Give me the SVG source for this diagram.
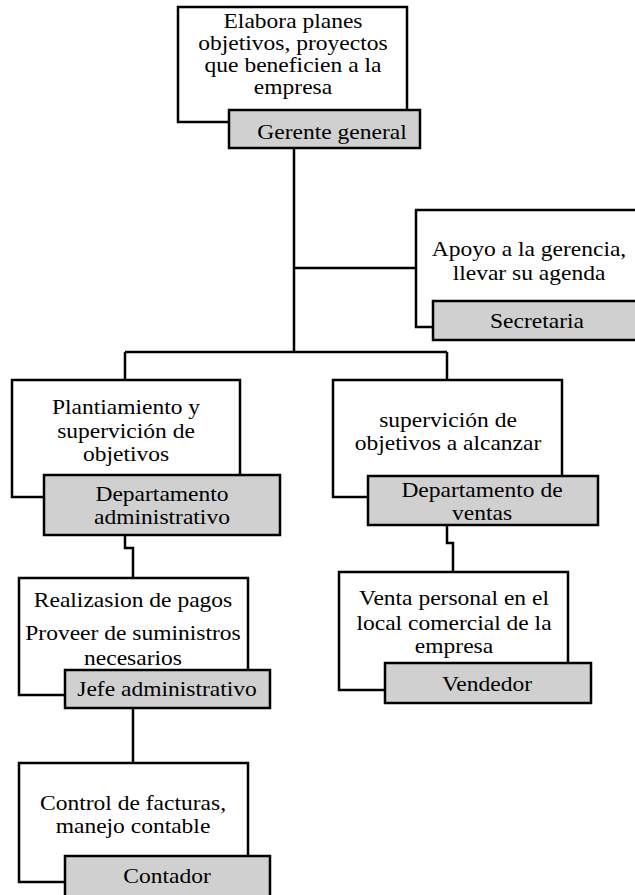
<svg xmlns="http://www.w3.org/2000/svg" width="635" height="895" viewBox="0 0 635 895">
<style>
.w{fill:#fff;stroke:#000;stroke-width:2.5}
.g{fill:#d0d0d0;stroke:#000;stroke-width:2.5}
.c{fill:none;stroke:#000;stroke-width:2.5}
text{font-family:"Liberation Serif","Times New Roman",serif;font-size:21px;fill:#000;text-anchor:middle}
</style>
<rect width="635" height="895" fill="#fff"/>
<g id="connectors">
<path class="c" d="M294,148 V352 M294,268 H416 M125,352 H447 M125,352 V380 M447,352 V380"/>
<path class="c" d="M125,535 V548 H133 V578"/>
<path class="c" d="M447,525 V543 H453 V572"/>
<path class="c" d="M133,708 V763"/>
</g>
<g id="gerente">
<rect class="w" x="178" y="7" width="229" height="115"/>
<text transform="translate(293 0) scale(1.12 1)"><tspan x="0" y="28">Elabora planes</tspan><tspan x="0" y="50">objetivos, proyectos</tspan><tspan x="0" y="72">que beneficien a la</tspan><tspan x="0" y="94">empresa</tspan></text>
<rect class="g" x="229" y="110" width="191" height="38"/>
<text transform="translate(332 0) scale(1.12 1)" x="0" y="139">Gerente general</text>
</g>
<g id="secretaria">
<rect class="w" x="416" y="210" width="222" height="117"/>
<text transform="translate(529 0) scale(1.12 1)"><tspan x="0" y="256">Apoyo a la gerencia,</tspan><tspan x="0" y="280">llevar su agenda</tspan></text>
<rect class="g" x="433" y="301" width="205" height="39"/>
<text transform="translate(537 0) scale(1.12 1)" x="0" y="328">Secretaria</text>
</g>
<g id="dep-admin">
<rect class="w" x="12" y="380" width="228" height="117"/>
<text transform="translate(126 0) scale(1.12 1)"><tspan x="0" y="414">Plantiamiento y</tspan><tspan x="0" y="438">supervición de</tspan><tspan x="0" y="461">objetivos</tspan></text>
<rect class="g" x="44" y="475" width="236" height="60"/>
<text transform="translate(162 0) scale(1.12 1)"><tspan x="0" y="501">Departamento</tspan><tspan x="0" y="524">administrativo</tspan></text>
</g>
<g id="dep-ventas">
<rect class="w" x="333" y="380" width="229" height="117"/>
<text transform="translate(448 0) scale(1.12 1)"><tspan x="0" y="427">supervición de</tspan><tspan x="0" y="450">objetivos a alcanzar</tspan></text>
<rect class="g" x="368" y="476" width="230" height="49"/>
<text transform="translate(482 0) scale(1.12 1)"><tspan x="0" y="497">Departamento de</tspan><tspan x="0" y="520">ventas</tspan></text>
</g>
<g id="jefe">
<rect class="w" x="19" y="578" width="229" height="117"/>
<text transform="translate(133 0) scale(1.12 1)"><tspan x="0" y="607">Realizasion de pagos</tspan><tspan x="0" y="640">Proveer de suministros</tspan><tspan x="0" y="665">necesarios</tspan></text>
<rect class="g" x="65" y="670" width="205" height="38"/>
<text transform="translate(167 0) scale(1.12 1)" x="0" y="696">Jefe administrativo</text>
</g>
<g id="vendedor">
<rect class="w" x="339" y="572" width="229" height="118"/>
<text transform="translate(454 0) scale(1.12 1)"><tspan x="0" y="605">Venta personal en el</tspan><tspan x="0" y="630">local comercial de la</tspan><tspan x="0" y="653">empresa</tspan></text>
<rect class="g" x="385" y="663" width="206" height="40"/>
<text transform="translate(487 0) scale(1.12 1)" x="0" y="691">Vendedor</text>
</g>
<g id="contador">
<rect class="w" x="19" y="763" width="229" height="119"/>
<text transform="translate(133 0) scale(1.12 1)"><tspan x="0" y="810">Control de facturas,</tspan><tspan x="0" y="833">manejo contable</tspan></text>
<rect class="g" x="65" y="856" width="205" height="42"/>
<text transform="translate(167 0) scale(1.12 1)" x="0" y="883">Contador</text>
</g>
</svg>
